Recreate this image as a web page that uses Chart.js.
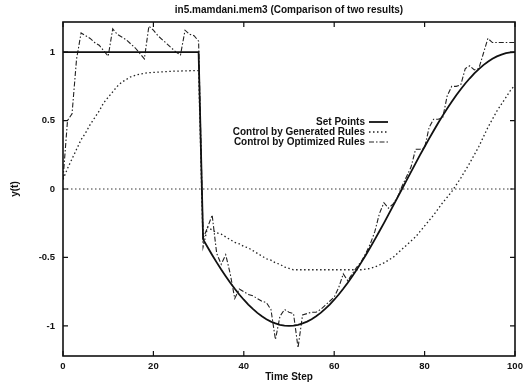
<!DOCTYPE html>
<html><head><meta charset="utf-8">
<script src="https://cdn.jsdelivr.net/npm/chart.js@4/dist/chart.umd.min.js"></script>
<style>html,body{margin:0;padding:0;background:#fff;}</style>
</head><body>
<canvas id="c" width="529" height="386" style="display:block;width:529px;height:386px"></canvas>
<script>
const timeSteps=[0,1,2,3,4,5,6,7,8,9,10,11,12,13,14,15,16,17,18,19,20,21,22,23,24,25,26,27,28,29,30,31,32,33,34,35,36,37,38,39,40,41,42,43,44,45,46,47,48,49,50,51,52,53,54,55,56,57,58,59,60,61,62,63,64,65,66,67,68,69,70,71,72,73,74,75,76,77,78,79,80,81,82,83,84,85,86,87,88,89,90,91,92,93,94,95,96,97,98,99,100];
const setPoints=[1,1,1,1,1,1,1,1,1,1,1,1,1,1,1,1,1,1,1,1,1,1,1,1,1,1,1,1,1,1,1,
 -0.368,-0.426,-0.482,-0.536,-0.588,-0.637,-0.685,-0.729,-0.771,-0.809,-0.844,-0.876,-0.905,-0.930,-0.951,-0.969,-0.982,-0.992,-0.998,-1,
 -0.998,-0.992,-0.982,-0.969,-0.951,-0.930,-0.905,-0.876,-0.844,-0.809,-0.771,-0.729,-0.685,-0.637,-0.588,-0.536,-0.482,-0.426,-0.368,-0.309,
 -0.249,-0.187,-0.125,-0.063,0,0.063,0.125,0.187,0.249,0.309,0.368,0.426,0.482,0.536,0.588,0.637,0.685,0.729,0.771,0.809,
 0.844,0.876,0.905,0.930,0.951,0.969,0.982,0.992,0.998,1];
const generatedRules=[0.07,0.15,0.22,0.29,0.36,0.41,0.47,0.52,0.57,0.63,0.67,0.71,0.75,0.78,0.80,0.82,0.83,0.84,0.845,0.85,0.852,0.854,0.856,0.858,0.86,0.861,0.862,0.863,0.864,0.865,0.865,
 -0.42,-0.28,-0.30,-0.32,-0.33,-0.35,-0.37,-0.39,-0.40,-0.42,-0.43,-0.45,-0.47,-0.49,-0.51,-0.52,-0.54,-0.55,-0.57,-0.58,
 -0.59,-0.59,-0.59,-0.59,-0.59,-0.59,-0.59,-0.59,-0.59,-0.59,-0.59,-0.59,-0.59,-0.59,-0.59,-0.59,-0.585,-0.58,-0.57,-0.555,
 -0.54,-0.52,-0.50,-0.47,-0.44,-0.41,-0.38,-0.35,-0.31,-0.27,-0.23,-0.19,-0.145,-0.10,-0.06,-0.02,0.03,0.08,0.135,0.19,
 0.25,0.31,0.38,0.45,0.51,0.57,0.62,0.67,0.72,0.76];
const optimizedRules=[0.07,0.5,0.55,0.95,1.14,1.12,1.10,1.07,1.05,1.01,0.97,1.17,1.13,1.11,1.09,1.06,1.03,0.99,0.95,1.19,1.16,1.12,1.09,1.06,1.03,1.0,0.98,1.16,1.13,1.12,1.08,
 -0.36,-0.28,-0.19,-0.47,-0.55,-0.48,-0.62,-0.80,-0.73,-0.75,-0.77,-0.78,-0.80,-0.82,-0.83,-0.88,-1.10,-0.93,-0.88,-0.90,
 -0.91,-1.16,-0.92,-0.91,-0.90,-0.90,-0.88,-0.85,-0.82,-0.79,-0.72,-0.62,-0.67,-0.62,-0.57,-0.53,-0.47,-0.40,-0.31,-0.18,
 -0.10,-0.14,-0.11,-0.06,0.02,0.09,0.16,0.29,0.29,0.30,0.45,0.51,0.51,0.52,0.68,0.75,0.75,0.76,0.88,0.90,
 0.87,0.88,0.99,1.10,1.07,1.07,1.07,1.07,1.07,1.07];
const seriesNames=['Set Points','Control by Generated Rules','Control by Optimized Rules'];
const xTicks=[0,20,40,60,80,100];
const yTicks=[-1,-0.5,0,0.5,1];
const titleText='in5.mamdani.mem3 (Comparison of two results)';

const FONT='"Liberation Sans", Arial, sans-serif';
Chart.defaults.font.family=FONT;
Chart.defaults.font.size=10;
Chart.defaults.font.weight='bold';
Chart.defaults.color='#111';

const pts=v=>timeSteps.map((t,i)=>({x:t,y:v[i]}));

const framePlugin={
  id:'frame',
  beforeDatasetsDraw(chart){
    const {ctx,chartArea:a,scales:{y}}=chart;
    const y0=y.getPixelForValue(0);
    ctx.save();
    ctx.setLineDash([1.5,2.5]);ctx.strokeStyle='#333';ctx.lineWidth=1;
    ctx.beginPath();ctx.moveTo(a.left,y0);ctx.lineTo(a.right,y0);ctx.stroke();
    ctx.restore();
  },
  afterDatasetsDraw(chart){
    const {ctx,chartArea:a,scales:{x,y}}=chart;
    ctx.save();
    ctx.strokeStyle='#111';ctx.lineWidth=1.6;ctx.setLineDash([]);
    ctx.strokeRect(a.left,a.top,a.right-a.left,a.bottom-a.top);
    ctx.lineWidth=1.2;
    ctx.beginPath();
    xTicks.forEach(v=>{const px=x.getPixelForValue(v);ctx.moveTo(px,a.bottom);ctx.lineTo(px,a.bottom-5);ctx.moveTo(px,a.top);ctx.lineTo(px,a.top+5);});
    yTicks.forEach(v=>{const py=y.getPixelForValue(v);ctx.moveTo(a.left,py);ctx.lineTo(a.left+5,py);ctx.moveTo(a.right,py);ctx.lineTo(a.right-5,py);});
    ctx.stroke();
    // legend
    const rows=[122,132,142];
    ctx.font='bold 10px '+FONT;ctx.fillStyle='#111';ctx.textAlign='right';ctx.textBaseline='middle';
    chart.data.datasets.forEach((ds,i)=>{
      ctx.fillText(ds.label,365,rows[i]);
      ctx.save();
      ctx.strokeStyle=ds.borderColor;ctx.lineWidth=ds.borderWidth;ctx.setLineDash(ds.borderDash||[]);
      ctx.beginPath();ctx.moveTo(369,rows[i]);ctx.lineTo(388,rows[i]);ctx.stroke();
      ctx.restore();
    });
    ctx.restore();
  }
};

new Chart(document.getElementById('c'),{
  type:'scatter',
  data:{datasets:[
    {label:seriesNames[0],data:pts(setPoints),showLine:true,borderColor:'#111',borderWidth:1.8,pointRadius:0,tension:0},
    {label:seriesNames[1],data:pts(generatedRules),showLine:true,borderColor:'#222',borderWidth:1.3,borderDash:[1.5,2.5],pointRadius:0,tension:0},
    {label:seriesNames[2],data:pts(optimizedRules),showLine:true,borderColor:'#222',borderWidth:1.1,borderDash:[5,2,1.5,2],pointRadius:0,tension:0}
  ]},
  options:{
    responsive:false,animation:false,
    layout:{padding:{left:0,right:14,top:0,bottom:0}},
    plugins:{
      legend:{display:false},tooltip:{enabled:false},
      title:{display:true,text:titleText,fullSize:false,font:{size:10,weight:'bold'},padding:{top:4,bottom:6}}
    },
    scales:{
      x:{type:'linear',min:0,max:100,
        afterBuildTicks:s=>{s.ticks=xTicks.map(v=>({value:v}));},
        afterFit:s=>{s.height=30;},
        grid:{display:false,drawTicks:false},border:{display:false},
        ticks:{padding:5,callback:v=>String(v),maxRotation:0,font:{size:9.5}},
        title:{display:true,text:'Time Step',font:{size:10},padding:{top:0,bottom:3}}},
      y:{type:'linear',min:-1.22,max:1.22,
        afterBuildTicks:s=>{s.ticks=yTicks.map(v=>({value:v}));},
        afterFit:s=>{s.width=63;},
        grid:{display:false,drawTicks:false},border:{display:false},
        ticks:{padding:8,callback:v=>String(v),font:{size:9.5}},
        title:{display:true,text:'y(t)',font:{size:10},padding:{top:9,bottom:0}}}
    }
  },
  plugins:[framePlugin]
});
</script>
</body></html>
